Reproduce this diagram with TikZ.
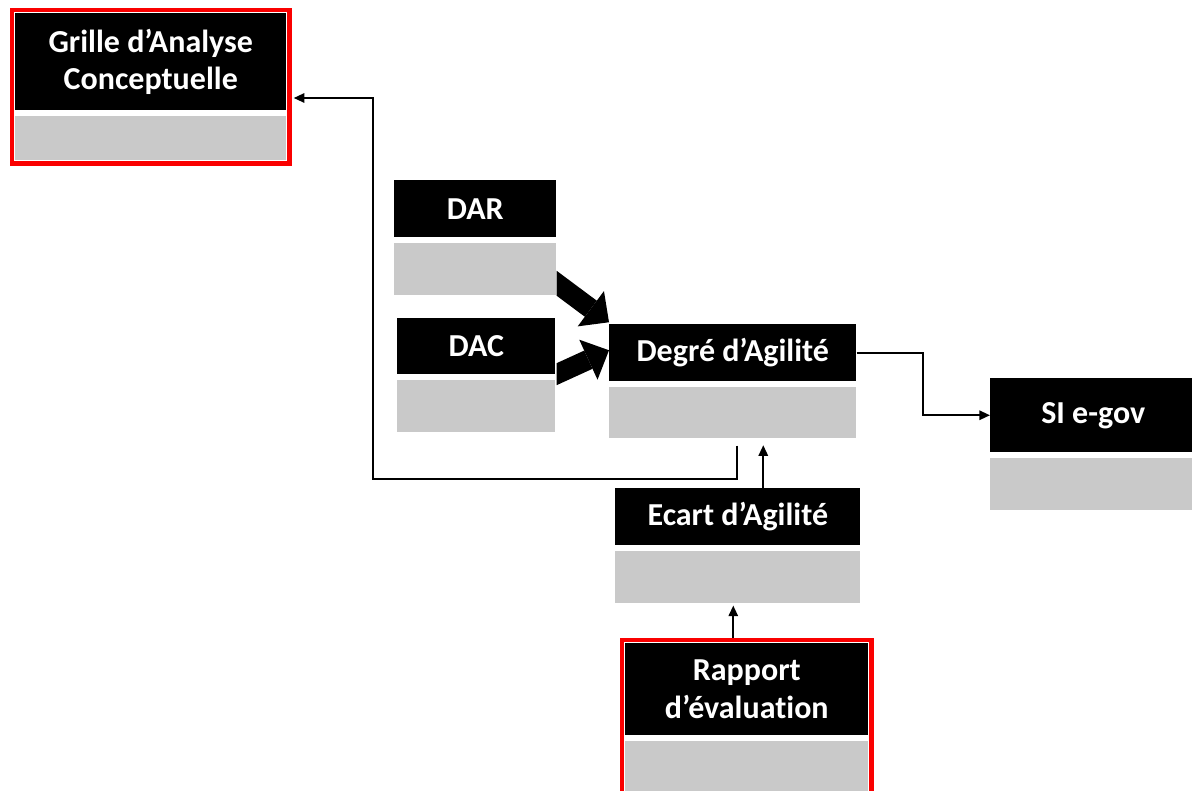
\documentclass[tikz,border=0pt]{standalone}
\usepackage{fontspec}
\setmainfont{Carlito}[Ligatures=NoCommon]
\usetikzlibrary{arrows.meta,calc,fit}
\definecolor{boxgray}{RGB}{201,201,201}
\definecolor{boxred}{RGB}{250,0,0}
\begin{document}
\begin{tikzpicture}[x=0.75pt,y=-0.75pt,
  sz/.style 2 args={minimum width=#1*0.75pt, minimum height=#2*0.75pt},
  hdr/.style={fill=black, text=white, inner sep=0pt, align=center, anchor=north west,
    font=\bfseries\fontsize{24}{28}\selectfont},
  sub/.style={fill=boxgray, inner sep=0pt, anchor=north west},
  frame/.style={draw=boxred, line width=3.4pt, inner sep=2.2pt},
  conn/.style={draw=black, line width=1.5pt, -{Triangle[length=8pt,width=7pt]}},
  bigarrow/.style={draw=black, line width=15pt,
    -{Triangle[length=17pt,width=33pt,line width=0pt]}}
]
\useasboundingbox (0,0) rectangle (1192,791);
\clip (0,0) rectangle (1192,791);

% Grille d'Analyse Conceptuelle
\node[hdr, sz={271}{97}] (gac) at (15,13) {Grille d’Analyse\\Conceptuelle};
\node[sub, sz={271}{44}] (gacg) at (15,116) {};
\node[frame, fit=(gac)(gacg)] (gacf) {};

% DAR
\node[hdr, sz={162}{57}] (dar) at (394,180) {DAR};
\node[sub, sz={162}{52}] (darg) at (394,243) {};

% DAC
\node[hdr, sz={158}{56}] (dac) at (397,318) {DAC};
\node[sub, sz={158}{52}] (dacg) at (397,380) {};

% Degré d'Agilité
\node[hdr, sz={247}{57}] (deg) at (609,324) {\raisebox{-1.5pt}{Degré d’Agilité}};
\node[sub, sz={247}{51}] (degg) at (609,387) {};

% SI e-gov
\node[hdr, sz={206}{74}] (si) at (990,378) {SI e-gov};
\node[sub, sz={206}{52}] (sig) at (990,458) {};

% Ecart d'Agilité
\node[hdr, sz={245}{57}] (ec) at (615,488) {Ecart d’Agilité};
\node[sub, sz={245}{52}] (ecg) at (615,551) {};

% Rapport d'évaluation
\node[hdr, sz={243}{92}] (rap) at (625,643) {Rapport\\d’évaluation};
\node[sub, sz={243}{60}] (rapg) at (625,741) {};
\node[frame, fit=(rap)(rapg)] (rapf) {};

% thick arrows into Degré d'Agilité, cut flush with the left boxes
\begin{scope}
  \clip (darg.north east) rectangle (dacg.south -| deg.east);
  \draw[bigarrow] ($(darg.east)+(-16,2)$) -- ($(deg.west)+(0,-30.5)$);
  \draw[bigarrow] ($(dac.south east)+(-15,7)$) -- ($(deg.west)+(0,-2.5)$);
\end{scope}

% Degré d'Agilité -> SI e-gov
\draw[conn] (deg.east) -- ++(66,0) |- (si.west);

% Degré d'Agilité -> Grille d'Analyse Conceptuelle
\coordinate (turn) at (373,98);
\draw[conn, shorten >=1.5pt] ($(degg.south)+(4.5,7)$) -- ++(0,33) -| (turn) -- (turn -| gacf.east);

% Ecart d'Agilité -> Degré d'Agilité
\coordinate (ea) at ($(ec.north)+(25.5,0)$);
\draw[conn, shorten >=5pt] (ea) -- (ea |- degg.south);

% Rapport d'évaluation -> Ecart d'Agilité
\coordinate (ra) at ($(rapf.north)+(-13.5,0)$);
\draw[conn, shorten >=1.5pt] (ra) -- (ra |- ecg.south);
\end{tikzpicture}
\end{document}
